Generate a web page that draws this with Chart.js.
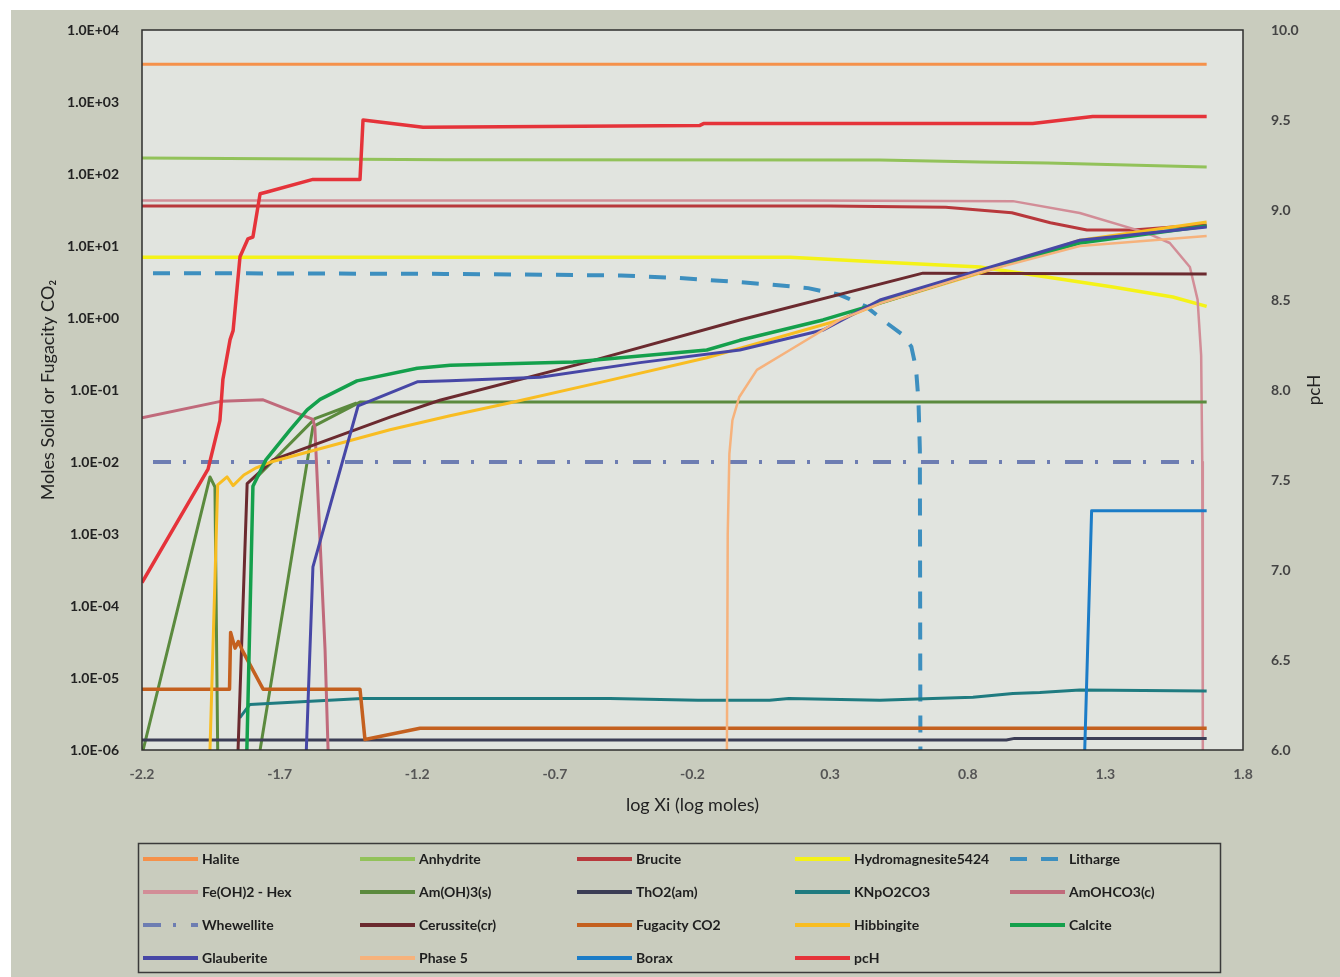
<!DOCTYPE html>
<html>
<head>
<meta charset="utf-8">
<script src="https://cdn.jsdelivr.net/npm/chart.js@4.4.0/dist/chart.umd.min.js"></script>
<style>
  html, body { margin: 0; padding: 0; background: #ffffff; }
  canvas { display: block; }
</style>
</head>
<body>
<canvas id="chart" width="1340" height="977"></canvas>
<script>
// Tick values
const xTicks = [-2.2, -1.7, -1.2, -0.7, -0.2, 0.3, 0.8, 1.3, 1.8];
const molTicks = [1e-6, 1e-5, 1e-4, 1e-3, 1e-2, 1e-1, 1e0, 1e1, 1e2, 1e3, 1e4];
const pchTicks = [6.0, 6.5, 7.0, 7.5, 8.0, 8.5, 9.0, 9.5, 10.0];

// Series: [log Xi, moles (or fugacity / pcH)]; null breaks a line
const halite = [[-2.2, 3350], [1.668, 3350]];
const anhydrite = [[-2.2, 167], [-1.1, 158], [0.48, 156], [0.844, 147], [1.09, 142], [1.668, 125]];
const brucite = [[-2.2, 36], [0.3, 36], [0.72, 34.5], [0.96, 29], [1.1, 21], [1.233, 16.7], [1.4, 16.7], [1.545, 18.4], [1.668, 19.6]];
const hydromagnesite = [[-2.2, 7.0], [0.154, 7.0], [0.48, 6.0], [0.844, 5.1], [1.087, 3.7], [1.327, 2.7], [1.545, 1.96], [1.668, 1.45]];
const litharge = [[-2.16, 4.2], [-1.1, 4.1], [-0.46, 3.9], [-0.25, 3.6], [-0.03, 3.15], [0.09, 2.9], [0.22, 2.6], [0.335, 2.1], [0.43, 1.45], [0.506, 0.85], [0.56, 0.6], [0.595, 0.4], [0.612, 0.2], [0.621, 0.07], [0.626, 0.015], [0.628, 1e-6]];
const feOH2 = [[-2.2, 43], [0.2, 43], [0.964, 42], [1.207, 28.7], [1.45, 15.2], [1.534, 11], [1.607, 5.1], [1.635, 1.8], [1.648, 0.3], [1.652, 0.01], [1.654, 1e-6]];
const amOH3 = [[-2.196, 1e-6], [-1.953, 0.0062], [-1.935, 0.0045], [-1.925, 1e-6], [-1.85, null], [-1.771, 1e-6], [-1.579, 0.031], [-1.408, 0.068], [1.668, 0.068], [1.67, null], [-1.782, 0.0062], [-1.572, 0.04], [-1.42, 0.066]];
const thO2 = [[-2.2, 1.38e-6], [0.94, 1.38e-6], [0.97, 1.45e-6], [1.668, 1.45e-6]];
const kNpO2CO3 = [[-1.845, 2.8e-6], [-1.808, 4.3e-6], [-1.4, 5.2e-6], [-0.5, 5.2e-6], [-0.18, 4.9e-6], [0.08, 4.9e-6], [0.15, 5.2e-6], [0.481, 4.9e-6], [0.673, 5.2e-6], [0.819, 5.4e-6], [0.964, 6.1e-6], [1.062, 6.3e-6], [1.207, 6.8e-6], [1.668, 6.6e-6]];
const amOHCO3 = [[-2.2, 0.041], [-1.91, 0.07], [-1.76, 0.073], [-1.579, 0.039], [-1.572, 0.03], [-1.535, 2.5e-5], [-1.524, 1e-6]];
const whewellite = [[-2.16, 0.01], [1.668, 0.01]];
const cerussite = [[-1.851, 1e-6], [-1.818, 0.005], [-1.724, 0.0107], [-1.299, 0.042], [-1.118, 0.072], [-0.573, 0.25], [-0.028, 0.94], [0.637, 4.2], [1.668, 4.1]];
const fugacityCO2 = [[-2.2, 7e-6], [-1.882, 7e-6], [-1.878, 4.3e-5], [-1.862, 2.6e-5], [-1.85, 3.2e-5], [-1.835, 2.4e-5], [-1.76, 7e-6], [-1.408, 7e-6], [-1.39, 1.4e-6], [-1.19, 2e-6], [1.668, 2e-6]];
const hibbingite = [[-1.953, 1e-6], [-1.925, 0.0048], [-1.891, 0.0062], [-1.869, 0.0047], [-1.83, 0.0066], [-1.785, 0.0083], [-1.735, 0.0099], [-1.299, 0.028], [-1.081, 0.044], [-0.874, 0.065], [-0.511, 0.134], [-0.148, 0.28], [0.335, 0.94], [0.481, 1.6], [0.844, 4.2], [1.207, 12], [1.668, 21.5]];
const calcite = [[-1.819, 1e-6], [-1.797, 0.0046], [-1.75, 0.0107], [-1.662, 0.028], [-1.6, 0.053], [-1.553, 0.074], [-1.419, 0.134], [-1.2, 0.2], [-1.08, 0.22], [-0.634, 0.245], [-0.148, 0.36], [-0.028, 0.49], [0.274, 0.94], [0.5, 1.7], [0.844, 4.4], [1.207, 11], [1.668, 19]];
const glauberite = [[-1.603, 1e-6], [-1.579, 3.5e-4], [-1.415, 0.06], [-1.2, 0.13], [-1.081, 0.134], [-0.754, 0.15], [-0.391, 0.24], [-0.028, 0.36], [0.274, 0.68], [0.481, 1.78], [0.844, 4.6], [1.207, 12], [1.668, 18.4]];
const phase5 = [[-0.075, 1e-6], [-0.072, 0.001], [-0.066, 0.013], [-0.055, 0.038], [-0.03, 0.08], [0.034, 0.19], [0.154, 0.36], [0.335, 0.94], [0.481, 1.6], [0.844, 4.3], [1.207, 10], [1.668, 13.8]];
const borax = [[1.225, 1e-6], [1.25, 0.0021], [1.668, 0.0021]];
const pcH = [[-2.2, 6.93], [-1.96, 7.56], [-1.917, 7.83], [-1.906, 8.06], [-1.88, 8.28], [-1.869, 8.33], [-1.844, 8.74], [-1.815, 8.84], [-1.797, 8.85], [-1.771, 9.09], [-1.746, 9.10], [-1.579, 9.17], [-1.408, 9.17], [-1.397, 9.50], [-1.179, 9.46], [-0.173, 9.47], [-0.16, 9.48], [1.036, 9.48], [1.254, 9.52], [1.668, 9.52]];

const toXY = arr => arr.map(([x, y]) => ({ x, y }));

// Legend order (row by row, five per row)
const seriesDefs = [
  { label: 'Halite', data: halite, color: '#f5914a', width: 3 },
  { label: 'Anhydrite', data: anhydrite, color: '#92c25a', width: 3 },
  { label: 'Brucite', data: brucite, color: '#b8383c', width: 3 },
  { label: 'Hydromagnesite5424', data: hydromagnesite, color: '#f4f218', width: 3.5 },
  { label: 'Litharge', data: litharge, color: '#3d8fbf', width: 4, dash: [17, 14] },
  { label: 'Fe(OH)2 - Hex', data: feOH2, color: '#d28d97', width: 2.5 },
  { label: 'Am(OH)3(s)', data: amOH3, color: '#5b8a3e', width: 3 },
  { label: 'ThO2(am)', data: thO2, color: '#3b3d55', width: 3 },
  { label: 'KNpO2CO3', data: kNpO2CO3, color: '#1f7b80', width: 3 },
  { label: 'AmOHCO3(c)', data: amOHCO3, color: '#c06a7b', width: 3 },
  { label: 'Whewellite', data: whewellite, color: '#6d7db2', width: 4, dash: [18, 12, 3, 15] },
  { label: 'Cerussite(cr)', data: cerussite, color: '#6b2a2f', width: 3 },
  { label: 'Fugacity CO2', data: fugacityCO2, color: '#c4601f', width: 3.5 },
  { label: 'Hibbingite', data: hibbingite, color: '#f8bd22', width: 3 },
  { label: 'Calcite', data: calcite, color: '#14a04c', width: 3.5 },
  { label: 'Glauberite', data: glauberite, color: '#4747a6', width: 3 },
  { label: 'Phase 5', data: phase5, color: '#f6b27c', width: 2.5 },
  { label: 'Borax', data: borax, color: '#1b7cc7', width: 3 },
  { label: 'pcH', data: pcH, color: '#e5333a', width: 3.5, axis: 'yPch' }
];

const datasets = seriesDefs.map((s, i) => ({
  label: s.label,
  data: toXY(s.data),
  borderColor: s.color,
  backgroundColor: s.color,
  borderWidth: s.width,
  borderDash: s.dash || [],
  borderCapStyle: 'butt',
  borderJoinStyle: 'round',
  pointRadius: 0,
  tension: 0,
  spanGaps: false,
  fill: false,
  yAxisID: s.axis || 'yMol',
  order: seriesDefs.length - i
}));

const fmtExp = v => {
  const e = Math.round(Math.log10(v));
  return '1.0E' + (e < 0 ? '-' : '+') + String(Math.abs(e)).padStart(2, '0');
};

const FONT = 'Lato, "Open Sans", sans-serif';

const backdrop = {
  id: 'backdrop',
  beforeDraw(chart) {
    const { ctx, chartArea: a } = chart;
    ctx.save();
    ctx.fillStyle = '#ffffff';
    ctx.fillRect(0, 0, chart.width, chart.height);
    ctx.fillStyle = '#c9ccbe';
    ctx.fillRect(11, 10, chart.width - 11, chart.height - 10);
    ctx.fillStyle = '#e1e4df';
    ctx.fillRect(a.left, a.top, a.right - a.left, a.bottom - a.top);
    ctx.restore();
  },
  afterDatasetsDraw(chart) {
    const { ctx, chartArea: a } = chart;
    ctx.save();
    ctx.strokeStyle = '#2e2e2e';
    ctx.lineWidth = 1.5;
    ctx.strokeRect(a.left, a.top, a.right - a.left, a.bottom - a.top);
    ctx.restore();
  }
};

const extras = {
  id: 'extras',
  afterDraw(chart) {
    const ctx = chart.ctx;
    ctx.save();
    // right axis title, reading bottom to top
    ctx.translate(1315, 390);
    ctx.rotate(-Math.PI / 2);
    ctx.fillStyle = '#222';
    ctx.font = '17px ' + FONT;
    ctx.textAlign = 'center';
    ctx.textBaseline = 'middle';
    ctx.fillText('pcH', 0, 0);
    ctx.restore();

    // boxed legend, five columns
    ctx.save();
    ctx.strokeStyle = '#3a3a3a';
    ctx.lineWidth = 1.5;
    ctx.strokeRect(138.5, 843.5, 1082, 129);
    const cols = [143, 360, 577, 795, 1010];
    const rows = [859, 892, 925, 958];
    chart.data.datasets.forEach((ds, i) => {
      const x = cols[i % 5];
      const y = rows[Math.floor(i / 5)];
      ctx.beginPath();
      ctx.setLineDash(ds.borderDash || []);
      ctx.strokeStyle = ds.borderColor;
      ctx.lineWidth = 4;
      ctx.lineCap = 'butt';
      ctx.moveTo(x, y);
      ctx.lineTo(x + 55, y);
      ctx.stroke();
      ctx.setLineDash([]);
      ctx.fillStyle = '#1e1e1e';
      ctx.font = 'bold 14px ' + FONT;
      ctx.textAlign = 'left';
      ctx.textBaseline = 'middle';
      ctx.fillText(ds.label, x + 59, y);
    });
    ctx.restore();
  }
};

new Chart(document.getElementById('chart'), {
  type: 'line',
  data: { datasets },
  plugins: [backdrop, extras],
  options: {
    responsive: false,
    animation: false,
    events: [],
    layout: { padding: { top: 30, left: 0, right: 0, bottom: 152 } },
    plugins: { legend: { display: false }, tooltip: { enabled: false } },
    scales: {
      x: {
        type: 'linear',
        min: -2.2,
        max: 1.8,
        afterBuildTicks: s => { s.ticks = xTicks.map(v => ({ value: v })); },
        afterFit: s => { s.height = 75; },
        grid: { display: false },
        border: { display: false },
        ticks: {
          autoSkip: false, maxRotation: 0, padding: 8,
          callback: v => Number(v).toFixed(1),
          color: '#555', font: { family: FONT, size: 14, weight: 'bold' }
        },
        title: {
          display: true, text: 'log Xi (log moles)', color: '#222',
          font: { family: FONT, size: 18 }, padding: { top: 0, bottom: 9 }
        }
      },
      yMol: {
        type: 'logarithmic',
        position: 'left',
        min: 1e-6,
        max: 1e4,
        afterBuildTicks: s => { s.ticks = molTicks.map(v => ({ value: v })); },
        afterFit: s => { s.width = 142; },
        grid: { display: false },
        border: { display: false },
        ticks: {
          padding: 15, autoSkip: false,
          callback: v => fmtExp(v),
          color: '#222', font: { family: FONT, size: 14, weight: 'bold' }
        },
        title: {
          display: true, text: 'Moles Solid or Fugacity CO₂', color: '#222',
          font: { family: FONT, size: 18 }, padding: { top: 37, bottom: 0 }
        }
      },
      yPch: {
        type: 'linear',
        position: 'right',
        min: 6,
        max: 10,
        afterBuildTicks: s => { s.ticks = pchTicks.map(v => ({ value: v })); },
        afterFit: s => { s.width = 97; },
        grid: { display: false },
        border: { display: false },
        ticks: {
          padding: 20, autoSkip: false,
          callback: v => Number(v).toFixed(1),
          color: '#444', font: { family: FONT, size: 14, weight: 'bold' }
        },
        title: { display: false }
      }
    }
  }
});
</script>
</body>
</html>
